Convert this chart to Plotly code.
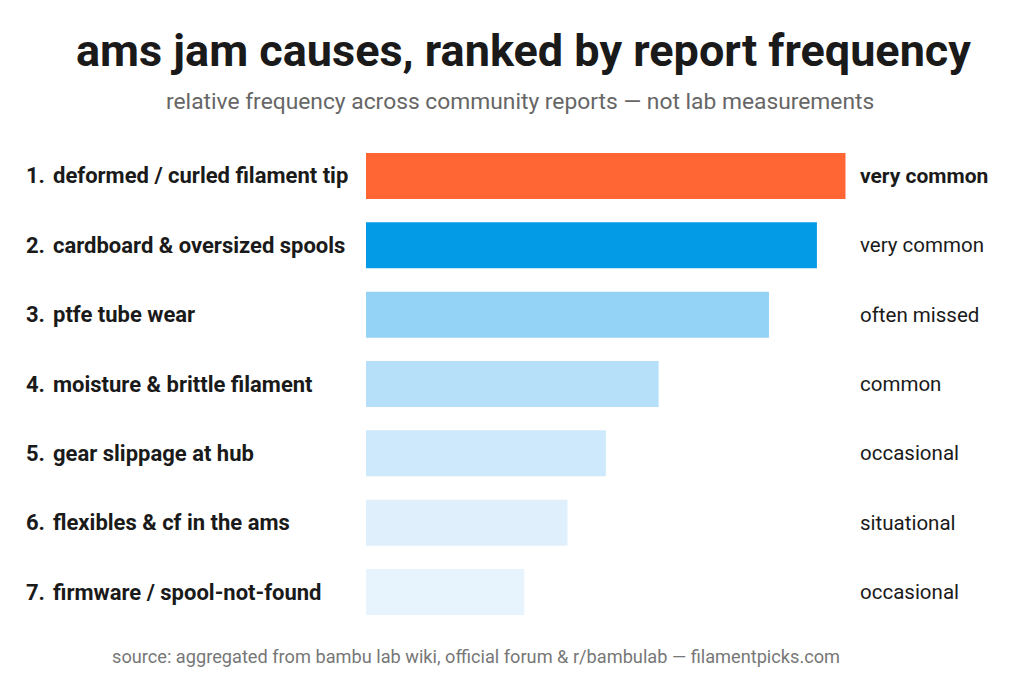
import plotly.graph_objects as go

causes = [
    "deformed / curled filament tip",
    "cardboard & oversized spools",
    "ptfe tube wear",
    "moisture & brittle filament",
    "gear slippage at hub",
    "flexibles & cf in the ams",
    "firmware / spool-not-found",
]
frequency = [100, 94, 84, 61, 50, 42, 33]
tags = ["very common", "very common", "often missed", "common", "occasional", "situational", "occasional"]
colors = ["#FF6633", "#039BE5", "#94D2F6", "#B6E0F9", "#CEE9FB", "#DFF0FC", "#E8F4FD"]

W, H = 1024, 683
ranks = [f"{i + 1}." for i in range(len(causes))]

fig = go.Figure(
    go.Bar(
        x=frequency,
        y=causes,
        orientation="h",
        marker=dict(color=colors, line=dict(width=0)),
        hoverinfo="skip",
    )
)

x0 = 366 / W
x1 = 845.7 / W
fig.update_layout(
    width=W,
    height=H,
    margin=dict(l=0, r=0, t=0, b=0),
    paper_bgcolor="white",
    plot_bgcolor="white",
    showlegend=False,
    bargap=0.336,
    font=dict(family="Roboto, sans-serif", color="#1a1a1a"),
    xaxis=dict(domain=[x0, x1], range=[0, 100], visible=False, fixedrange=True),
    yaxis=dict(
        domain=[1 - 626.7 / H, 1 - 141.3 / H],
        categoryorder="array",
        categoryarray=causes,
        autorange="reversed",
        visible=False,
    ),
)

anns = []
for i, (c, r, t) in enumerate(zip(causes, ranks, tags)):
    anns.append(dict(xref="paper", yref="y", x=24 / W, y=c, text=r, showarrow=False,
                     xanchor="left", yanchor="middle",
                     font=dict(size=22, color="#1a1a1a", family="Roboto, sans-serif", weight="bold")))
    anns.append(dict(xref="paper", yref="y", x=51 / W, y=c, text=c, showarrow=False,
                     xanchor="left", yanchor="middle",
                     font=dict(size=22, color="#1a1a1a", family="Roboto, sans-serif", weight="bold")))
    anns.append(dict(xref="paper", yref="y", x=858 / W, y=c, text=t, showarrow=False,
                     xanchor="left", yanchor="middle",
                     font=dict(size=21 if i == 0 else 20.5, color="#1a1a1a", family="Roboto, sans-serif",
                               weight="bold" if i == 0 else "normal")))

anns.append(dict(xref="paper", yref="paper", x=523 / W, y=1 - 50 / H,
                 text="ams jam causes, ranked by report frequency", showarrow=False,
                 xanchor="center", yanchor="middle",
                 font=dict(size=45, color="#1a1a1a", family="Roboto, sans-serif", weight="bold")))
anns.append(dict(xref="paper", yref="paper", x=520 / W, y=1 - 102 / H,
                 text="relative frequency across community reports — not lab measurements", showarrow=False,
                 xanchor="center", yanchor="middle",
                 font=dict(size=22.8, color="#666666", family="Roboto, sans-serif")))
anns.append(dict(xref="paper", yref="paper", x=476 / W, y=1 - 656 / H,
                 text="source: aggregated from bambu lab wiki, official forum & r/bambulab — filamentpicks.com",
                 showarrow=False, xanchor="center", yanchor="middle",
                 font=dict(size=18.2, color="#777777", family="Roboto, sans-serif")))

fig.update_layout(annotations=anns)
fig.write_html("out.html", config={"displayModeBar": False})
